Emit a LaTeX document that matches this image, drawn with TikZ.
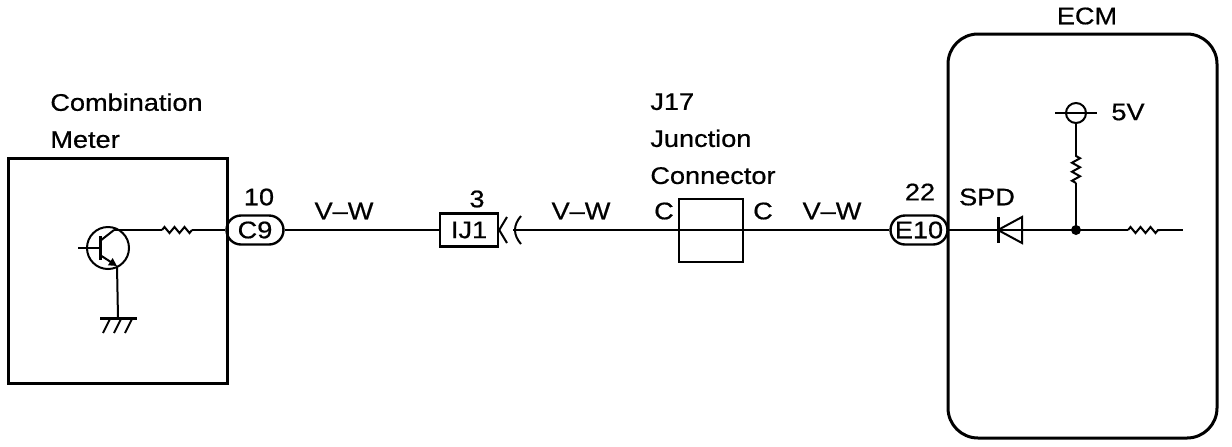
\documentclass[tikz,border=0pt]{standalone}
\usepackage{fontspec}
\usepackage{tikz}
\usetikzlibrary{arrows.meta,decorations.pathmorphing}
\setmainfont{Liberation Sans}[FakeStretch=1.13, FakeBold=0.6]
\newcommand{\pixel}[0]{0.5pt}
\newcommand{\labelFont}[0]{\fontsize{12}{18.5}\selectfont}

\begin{document}
\begin{tikzpicture}[x=\pixel, y=-\pixel]
  \tikzset{every node/.style={font=\labelFont, inner sep=0pt},
           wire/.style={line width=1pt},
           unit/.style={line width=1.5pt},
           pin/.style={draw, line width=1.2pt, rounded corners=7.25pt,
                       minimum width=28.5pt, minimum height=14.5pt},
           hres/.style={wire, decorate,
                        decoration={zigzag, segment length=5pt, amplitude=1.5pt}},
           vres/.style={wire, decorate,
                        decoration={zigzag, segment length=4.5pt, amplitude=2pt}}}
  \useasboundingbox (0,0) rectangle (1232,446);

  % combination meter
  \draw[unit] (8,158) rectangle (227,383);
  \node[anchor=north west, align=left] (meterName) at (50,93) {Combination\\Meter};
  \node[draw, wire, circle, minimum size=21pt] (tr) at (108,248) {};
  \coordinate (base) at (78,248);
  \coordinate (coll) at (114,230);
  \coordinate (emit) at (117,266);
  \coordinate (gnd) at (118,318);
  \draw[wire] (base) -- (100,248);
  \draw[unit] (100,236) -- (100,260);
  \draw[wire] (100,241) -- (coll);
  \draw[wire, -{Triangle[length=4pt, width=4pt]}] (100,255) -- (emit);
  \draw[wire] (emit) -- (gnd);
  \draw[unit] (100,318) -- (137,318);
  \draw[wire] (110,319) -- (103,333);
  \draw[wire] (121,319) -- (114,333);
  \draw[wire] (132,319) -- (125,333);
  \coordinate (resInA) at (162,230);
  \coordinate (resInB) at (192,230);
  \draw[wire] (coll) -- (resInA);
  \draw[hres] (resInA) -- (resInB);

  % pins and wire
  \node[pin] (c9) at (255,230) {C9};
  \node (c9Num) at (259,197) {10};
  \draw[wire] (resInB) -- (c9.west);
  \node[draw, line width=1.2pt, minimum width=29pt, minimum height=16.5pt] (ij1) at (469,230) {IJ1};
  \node (ij1Num) at (477,199) {3};
  \draw[wire] (c9.east) -- (ij1.west);
  \draw[wire] (507,217) -- (ij1.east) -- (507,243);
  \draw[wire] (521,216) .. controls (513,225) and (513,235) .. (521,244);
  \coordinate (plug) at (513,230);
  \node[draw, wire, minimum width=32pt, minimum height=31.5pt] (jc) at (711,230) {};
  \node[anchor=north west, align=left] (jcName) at (650,93) {J17\\Junction\\Connector};
  \node (cIn) at (664,211) {C};
  \node (cOut) at (763,211) {C};
  \draw[wire] (plug) -- (jc.west) -- (jc.east);
  \node[pin] (e10) at (919,230) {E10};
  \node (e10Num) at (920,192) {22};
  \draw[wire] (jc.east) -- (e10.west);
  \node (wireA) at (344,211) {V--W};
  \node (wireB) at (581,211) {V--W};
  \node (wireC) at (832,211) {V--W};

  % ECM
  \draw[unit, rounded corners=15pt] (948,34) rectangle (1217,438);
  \node (ecmName) at (1087,16) {ECM};
  \coordinate (spd) at (998,230);
  \coordinate (jn) at (1076,230);
  \node (spdName) at (987,197) {SPD};
  \draw[wire] (e10.east) -- (jn);
  \draw[unit] (998,217) -- (998,243);
  \draw[wire] (spd) -- (1022,217) -- (1022,243) -- cycle;
  \fill (jn) circle (2.5pt);
  \coordinate (resUpA) at (1076,183);
  \coordinate (resUpB) at (1076,155);
  \node[draw, wire, circle, minimum size=10pt] (vcc) at (1076,113) {};
  \draw[wire] (1055,113) -- (1097,113);
  \node (vccName) at (1128,112) {5V};
  \draw[wire] (jn) -- (resUpA);
  \draw[vres] (resUpA) -- (resUpB);
  \draw[wire] (resUpB) -- (vcc.south);
  \coordinate (resOutA) at (1128,230);
  \coordinate (resOutB) at (1160,230);
  \coordinate (out) at (1183,230);
  \draw[wire] (jn) -- (resOutA);
  \draw[hres] (resOutA) -- (resOutB);
  \draw[wire] (resOutB) -- (out);
\end{tikzpicture}
\end{document}
